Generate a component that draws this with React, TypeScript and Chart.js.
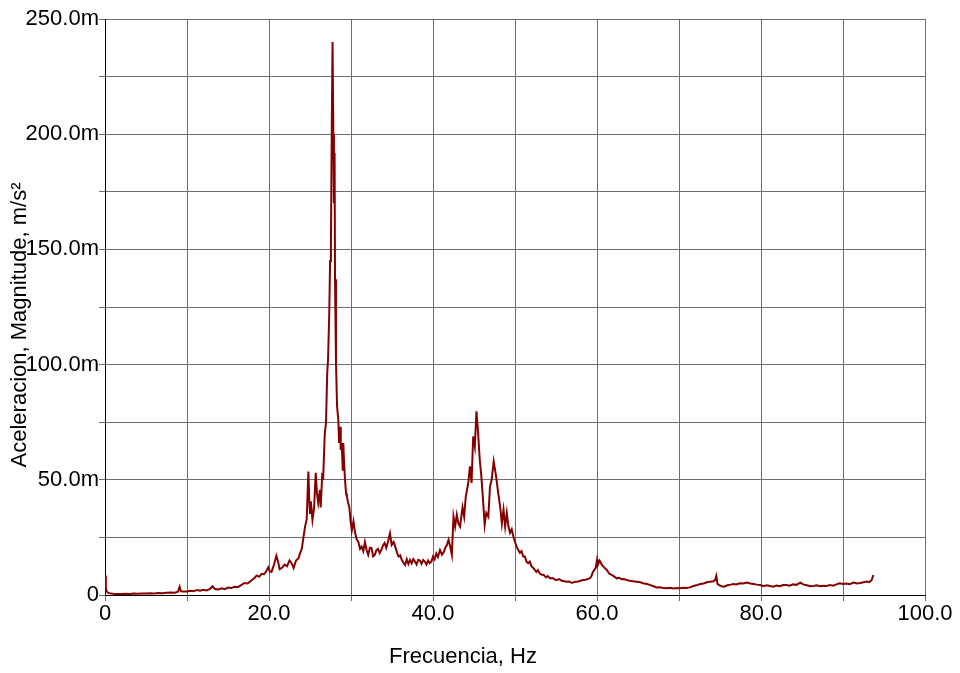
import React, { useEffect, useRef } from "react";
import { Chart, registerables } from "chart.js";

Chart.register(...registerables);

const freqHz: number[] = [
  0, 0.1, 0.2, 0.4, 0.7, 1.0, 1.5, 2.0, 2.5, 3.0, 3.5, 4.0, 4.5, 5.0, 5.5, 6.0, 6.5, 7.0, 7.5, 8.0, 8.5, 8.9, 9.1, 9.25, 9.6,
  10.0, 10.4, 10.8, 11.2, 11.6, 12.0, 12.4, 12.8, 13.1, 13.4, 13.8, 14.2, 14.6, 15.0, 15.4, 15.8, 16.2, 16.6, 17.0, 17.4, 17.8,
  18.2, 18.5, 18.8, 19.1, 19.4, 19.7, 19.9, 20.1, 20.3, 20.6, 20.9, 21.1, 21.3, 21.6, 21.9, 22.2, 22.5, 22.8, 23.0, 23.3, 23.6,
  23.8, 24.0, 24.2, 24.4, 24.6, 24.8, 24.9, 25.0, 25.1, 25.3, 25.5, 25.7, 25.85, 26.0, 26.2, 26.3, 26.5, 26.6, 26.8, 26.95,
  27.1, 27.2, 27.35, 27.45, 27.55, 27.65, 27.75, 27.85, 27.92, 28.0, 28.05, 28.17, 28.3, 28.45, 28.55, 28.66, 28.75, 28.86,
  29.0, 29.06, 29.15, 29.27, 29.4, 29.5, 29.65, 29.8, 29.95, 30.1, 30.3, 30.5, 30.7, 30.9, 31.1, 31.3, 31.5, 31.7, 31.9, 32.1,
  32.3, 32.5, 32.7, 32.9, 33.1, 33.3, 33.5, 33.7, 33.9, 34.1, 34.3, 34.5, 34.75, 34.96, 35.2, 35.4, 35.6, 35.8, 36.0, 36.2,
  36.4, 36.6, 36.8, 37.0, 37.2, 37.4, 37.6, 37.8, 38.0, 38.2, 38.4, 38.6, 38.8, 39.0, 39.2, 39.4, 39.6, 39.8, 40.0, 40.2, 40.4,
  40.6, 40.85, 41.1, 41.3, 41.5, 41.7, 41.9, 42.1, 42.3, 42.5, 42.7, 42.9, 43.1, 43.3, 43.6, 43.8, 44.0, 44.3, 44.5, 44.7, 44.9,
  45.1, 45.3, 45.5, 45.7, 45.9, 46.1, 46.3, 46.5, 46.75, 46.95, 47.15, 47.4, 47.7, 47.96, 48.2, 48.4, 48.6, 48.8, 49.0, 49.2,
  49.4, 49.6, 49.8, 50.0, 50.2, 50.4, 50.6, 50.8, 51.0, 51.2, 51.4, 51.6, 51.8, 52.0, 52.2, 52.4, 52.6, 52.8, 53.0, 53.2, 53.5,
  53.8, 54.0, 54.3, 54.6, 54.9, 55.1, 55.4, 55.7, 56.0, 56.3, 56.6, 56.9, 57.1, 57.4, 57.7, 58.0, 58.3, 58.6, 58.9, 59.1, 59.3,
  59.5, 59.7, 59.85, 60.0, 60.1, 60.2, 60.3, 60.4, 60.6, 60.8, 61.0, 61.2, 61.5, 61.8, 62.1, 62.4, 62.7, 63.0, 63.3, 63.6, 64.0,
  64.4, 64.8, 65.2, 65.6, 66.1, 66.5, 66.9, 67.3, 67.7, 68.1, 68.5, 68.9, 69.3, 69.7, 70.1, 70.5, 70.9, 71.3, 71.7, 72.1, 72.6,
  73.0, 73.4, 73.8, 74.2, 74.4, 74.55, 74.7, 74.9, 75.2, 75.5, 75.9, 76.3, 76.6, 77.0, 77.4, 77.8, 78.3, 78.7, 79.1, 79.5, 79.9,
  80.3, 80.7, 81.1, 81.5, 81.9, 82.3, 82.7, 83.1, 83.5, 83.9, 84.3, 84.8, 85.2, 85.6, 86.0, 86.4, 86.8, 87.2, 87.6, 88.0, 88.4,
  88.8, 89.2, 89.6, 90.0, 90.4, 90.8, 91.3, 91.7, 92.1, 92.5, 92.9, 93.2, 93.5, 93.7,
];

// acceleration magnitude in milli m/s²
const accelM: number[] = [
  8.5, 3.0, 1.5, 0.9, 0.6, 0.5, 0.4, 0.4, 0.5, 0.4, 0.6, 0.5, 0.7, 0.6, 0.8, 0.7, 0.9, 0.8, 1.0, 1.1, 1.0, 1.4, 3.6, 1.6, 1.5,
  1.5, 1.8, 1.6, 2.2, 1.9, 2.3, 2.0, 2.6, 3.8, 2.6, 2.4, 2.9, 2.5, 3.2, 3.0, 3.6, 3.4, 4.3, 5.2, 5.0, 6.2,
  7.3, 8.5, 7.9, 9.2, 9.0, 10.5, 12.0, 10.2, 10.0, 13.0, 17.0, 14.5, 11.2, 11.8, 13.2, 12.5, 15.0, 13.5, 11.7, 15.0, 16.0,
  18.3, 20.0, 25.0, 29.7, 33.0, 53.6, 42.0, 35.6, 40.6, 32.6, 38.0, 53.0, 44.0, 40.0, 45.6, 38.0, 53.0, 50.0, 70.0, 74.6,
  96.5, 102, 122.6, 145, 150, 200, 240, 200, 170, 192, 137, 101, 82, 76, 66, 73, 63, 66,
  54, 66, 58, 50, 44, 42.8, 40, 38, 32, 28, 32, 27, 24, 23, 20, 21, 19, 23, 19.5, 17.4,
  20.5, 20.4, 16.8, 17.4, 19.5, 20, 18.2, 19.6, 21.5, 22.6, 20.5, 23, 26.8, 21.7, 23, 21, 18.5, 16.7, 17.2, 15.2,
  14, 13, 15.5, 13.5, 15.2, 13.8, 15.6, 14.5, 13.2, 15.3, 15, 13.5, 15.2, 14.5, 13.2, 15, 13.8, 14.5, 16.7, 15.5, 18,
  16.5, 19.5, 17.5, 18.5, 20.5, 21.7, 24, 21, 17.4, 34, 29.7, 34.8, 31, 29.7, 38, 34, 42.8, 48.6, 55.8, 48.6, 68.8,
  64.5, 79.7, 70.4, 58.7, 51.4, 41.3, 30.4, 35.6, 34, 47, 50, 58, 51.4, 44, 38, 31, 37, 29.7, 35.6, 29.7,
  27, 28.5, 25.4, 23, 21, 19.5, 18.3, 19, 16.7, 16.7, 14.5, 13.8, 14.5, 12.5, 11.8, 11, 10, 10.8, 9.4, 8.9, 8.7,
  7.6, 8.2, 7.2, 7.4, 6.6, 6.5, 6.9, 6.2, 6.0, 5.8, 5.9, 5.3, 5.4, 5.8, 5.9, 6.2, 6.5, 6.6, 7.0, 7.2, 8.0,
  10, 11, 12, 15.2, 13, 13.8, 15.0, 14.5, 13, 12.3, 11.5, 10.9, 9.2, 8.7, 8.0, 7.2, 7.5, 6.8, 6.9, 6.5, 6.2,
  6.0, 5.8, 5.6, 5.1, 4.8, 4.3, 3.8, 3.3, 3.4, 3.0, 2.9, 3.1, 2.8, 3.0, 2.9, 3.1, 3.0, 3.3, 3.8, 4.2, 4.8,
  5.0, 5.5, 5.8, 6.0, 6.5, 8.3, 4.8, 4.3, 3.8, 3.6, 4.2, 4.5, 4.8, 4.6, 5.1, 5.0, 5.4, 5.0, 4.8, 4.5, 4.3,
  3.8, 4.2, 3.9, 3.6, 4.1, 3.8, 4.3, 4.3, 4.0, 4.6, 4.4, 5.4, 4.5, 4.2, 3.8, 3.9, 4.2, 3.8, 4.0, 3.9, 4.3,
  4.0, 4.6, 5.1, 4.8, 5.0, 4.7, 5.4, 5.0, 5.2, 5.5, 5.8, 5.6, 6.5, 8.7,
];

const xLabelEvery = 20;
const yLabelEvery = 50;
const xTitle = "Frecuencia, Hz";
const yTitle = "Aceleracion, Magnitude, m/s²";

const FONT = "'Liberation Sans', Arial, sans-serif";
const FONT_SIZE = 22;

export default function App() {
  const ref = useRef<HTMLCanvasElement | null>(null);

  useEffect(() => {
    document.body.style.margin = "0";
    const canvas = ref.current;
    if (!canvas) return;

    const titlePlugin = {
      id: "axisTitles",
      afterDraw(chart: any) {
        const ctx = chart.ctx;
        ctx.save();
        ctx.fillStyle = "#000";
        ctx.font = `${FONT_SIZE}px ${FONT}`;
        ctx.textAlign = "center";
        ctx.textBaseline = "middle";
        ctx.fillText(xTitle, 463, 657);
        ctx.translate(20, 325);
        ctx.rotate(-Math.PI / 2);
        ctx.fillText(yTitle, 0, 0);
        ctx.restore();
      },
    };

    const chart = new Chart(canvas, {
      type: "line",
      data: {
        datasets: [
          {
            data: freqHz.map((f, i) => ({ x: f, y: accelM[i] })),
            borderColor: "#850000",
            borderWidth: 2,
            pointRadius: 0,
            tension: 0,
            fill: false,
          },
        ],
      },
      options: {
        animation: false,
        responsive: true,
        maintainAspectRatio: false,
        layout: { padding: { top: 19, right: 35, bottom: 0, left: 0 } },
        plugins: { legend: { display: false }, tooltip: { enabled: false } },
        scales: {
          x: {
            type: "linear",
            min: 0,
            max: 100,
            afterFit: (s: any) => {
              s.height = 78;
            },
            ticks: {
              stepSize: 10,
              autoSkip: false,
              maxRotation: 0,
              padding: 0,
              color: "#000",
              font: { family: FONT, size: FONT_SIZE },
              callback: (v: any) =>
                Number(v) % xLabelEvery === 0 ? (Number(v) === 0 ? "0" : Number(v).toFixed(1)) : "",
            },
            grid: { color: "#6e6e6e", tickColor: "#6e6e6e", tickLength: 6, lineWidth: 1 },
            border: { color: "#000", width: 1 },
          },
          y: {
            min: 0,
            max: 250,
            afterFit: (s: any) => {
              s.width = 105;
            },
            ticks: {
              stepSize: 25,
              autoSkip: false,
              padding: 0,
              color: "#000",
              font: { family: FONT, size: FONT_SIZE },
              callback: (v: any) =>
                Number(v) % yLabelEvery === 0 ? (Number(v) === 0 ? "0" : Number(v).toFixed(1) + "m") : "",
            },
            grid: { color: "#6e6e6e", tickColor: "#6e6e6e", tickLength: 6, lineWidth: 1 },
            border: { color: "#000", width: 1 },
          },
        },
      },
      plugins: [titlePlugin],
    });
    return () => chart.destroy();
  }, []);

  return (
    <div style={{ position: "absolute", left: 0, top: 0, width: 960, height: 673 }}>
      <canvas ref={ref} />
    </div>
  );
}
